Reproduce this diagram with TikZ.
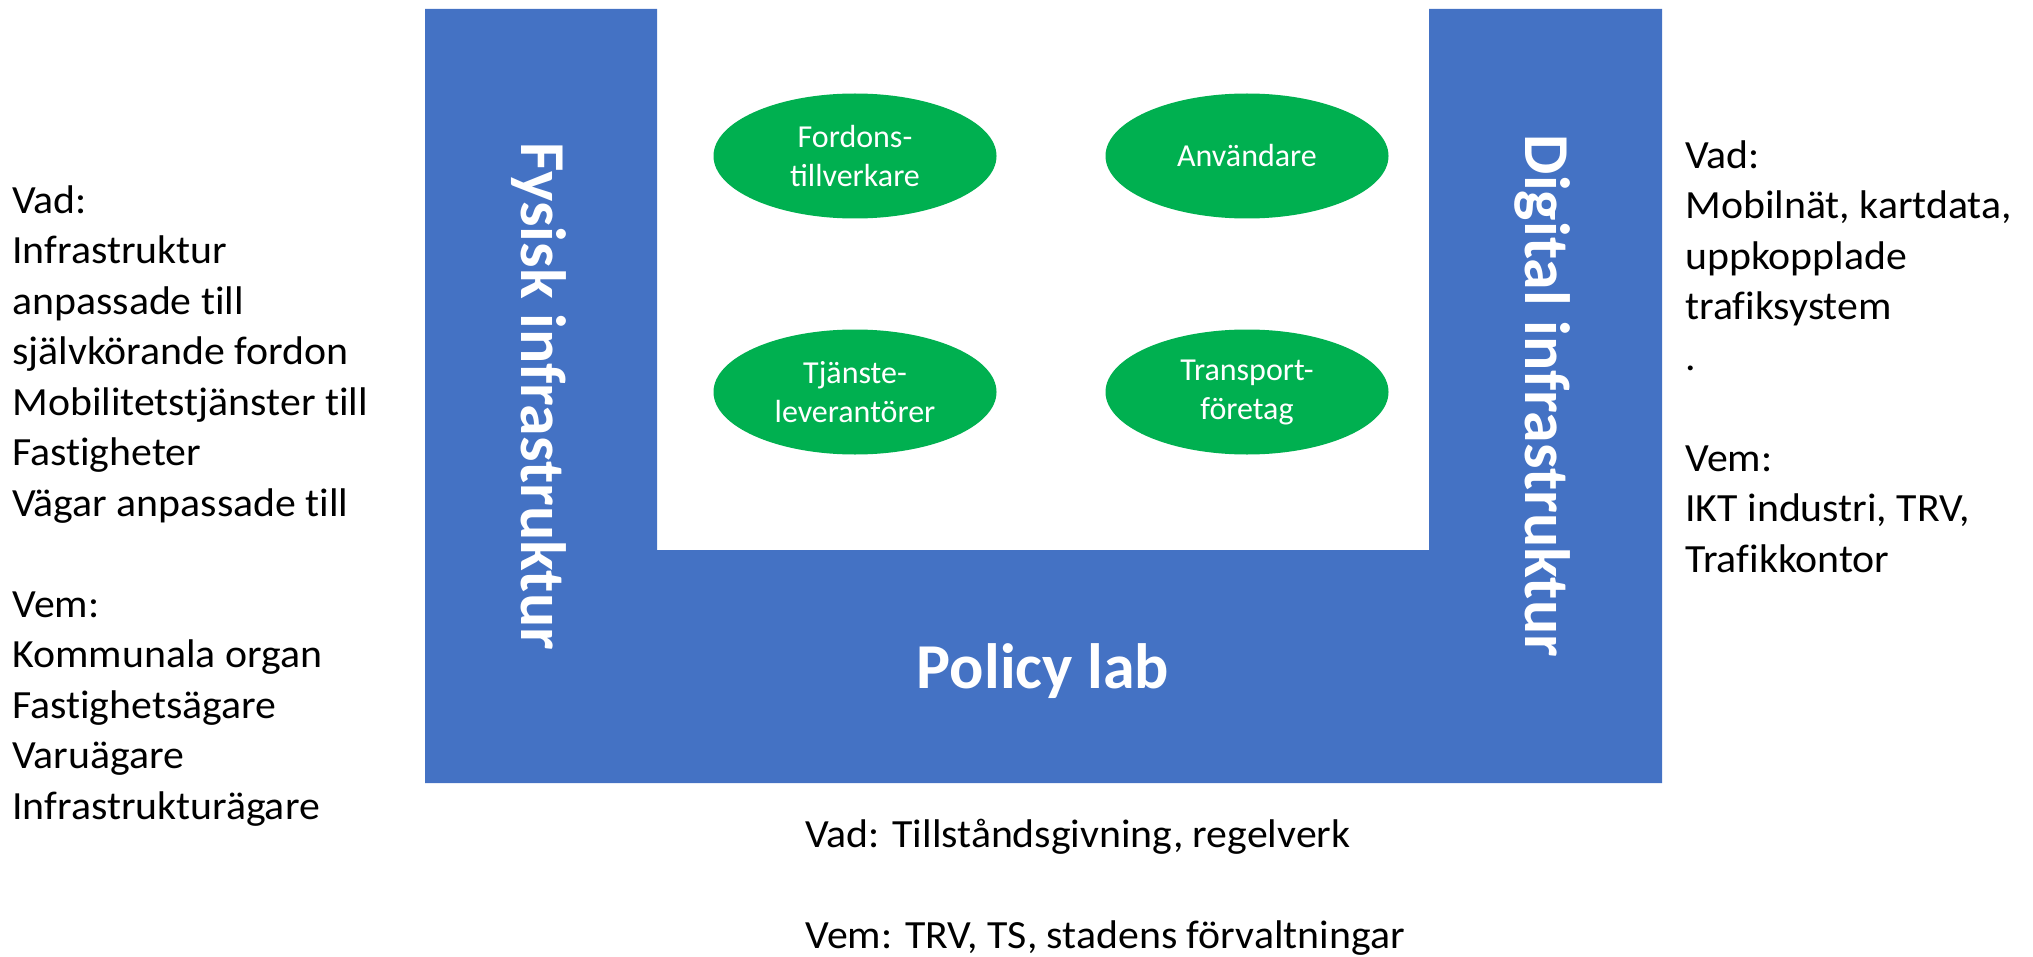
\documentclass[tikz,border=0pt]{standalone}
\usepackage{fontspec}
\setmainfont{Carlito}
\newfontfamily\notefont[FakeStretch=1.045, Ligatures=NoCommon]{Carlito}
\usetikzlibrary{shapes.geometric}
\definecolor{barblue}{HTML}{4472C4}
\definecolor{actgreen}{HTML}{00B050}

\begin{document}
\begin{tikzpicture}[x=0.5pt,y=-0.5pt,
  bar/.style={fill=barblue},
  actor/.style={ellipse, fill=actgreen, minimum width=141.5pt, minimum height=62.5pt,
    inner sep=0pt, text=white, align=center, font=\fontsize{16}{19.5}\selectfont},
  bartitle/.style={text=white, font=\bfseries\fontsize{32}{38}\selectfont, inner sep=0pt},
  % multi-line notes are anchored at the baseline of their last line
  note/.style={align=left, anchor=base west, inner sep=0pt, font=\notefont\fontsize{20}{25.25}\selectfont}]

\useasboundingbox (0,0) rectangle (2033,957);

% U-shaped frame: two pillars joined by the policy base
\fill[bar] (425,9) -- (657,9) -- (657,550) -- (1429,550) -- (1429,9) -- (1662,9)
  -- (1662,783) -- (425,783) -- cycle;

% pillar and base titles
\node[bartitle, rotate=-90, anchor=base] (fysisk) at (521,396) {Fysisk infrastruktur};
\node[bartitle, rotate=-90, anchor=base] (digital) at (1525,396) {Digital infrastruktur};
\node[bartitle, anchor=base] (policy) at (1043,688) {Policy lab};

% actors inside the frame
\node[actor] (fordon) at (855,156) {Fordons-\\tillverkare};
\node[actor] (anvandare) at (1247,156) {Användare};
\node[actor] (tjanst) at (855,392) {Tjänste-\\leverantörer};
\node[actor] (transport) at (1247,392) {Transport-\\företag};

% descriptions
\node[note] (fysiskinfo) at (12,819) {Vad:\\Infrastruktur\\anpassade till\\självkörande fordon\\Mobilitetstjänster till\\Fastigheter\\Vägar anpassade till\\[25.25pt]Vem:\\Kommunala organ\\Fastighetsägare\\Varuägare\\Infrastrukturägare};
\node[note] (digitalinfo) at (1685,572) {Vad:\\Mobilnät, kartdata,\\uppkopplade\\trafiksystem\\.\\[25.25pt]Vem:\\IKT industri, TRV,\\Trafikkontor};
\node[note] (policyinfo) at (805,948) {Vad: Tillståndsgivning, regelverk\\[25.25pt]Vem: TRV, TS, stadens förvaltningar};
\end{tikzpicture}
\end{document}
